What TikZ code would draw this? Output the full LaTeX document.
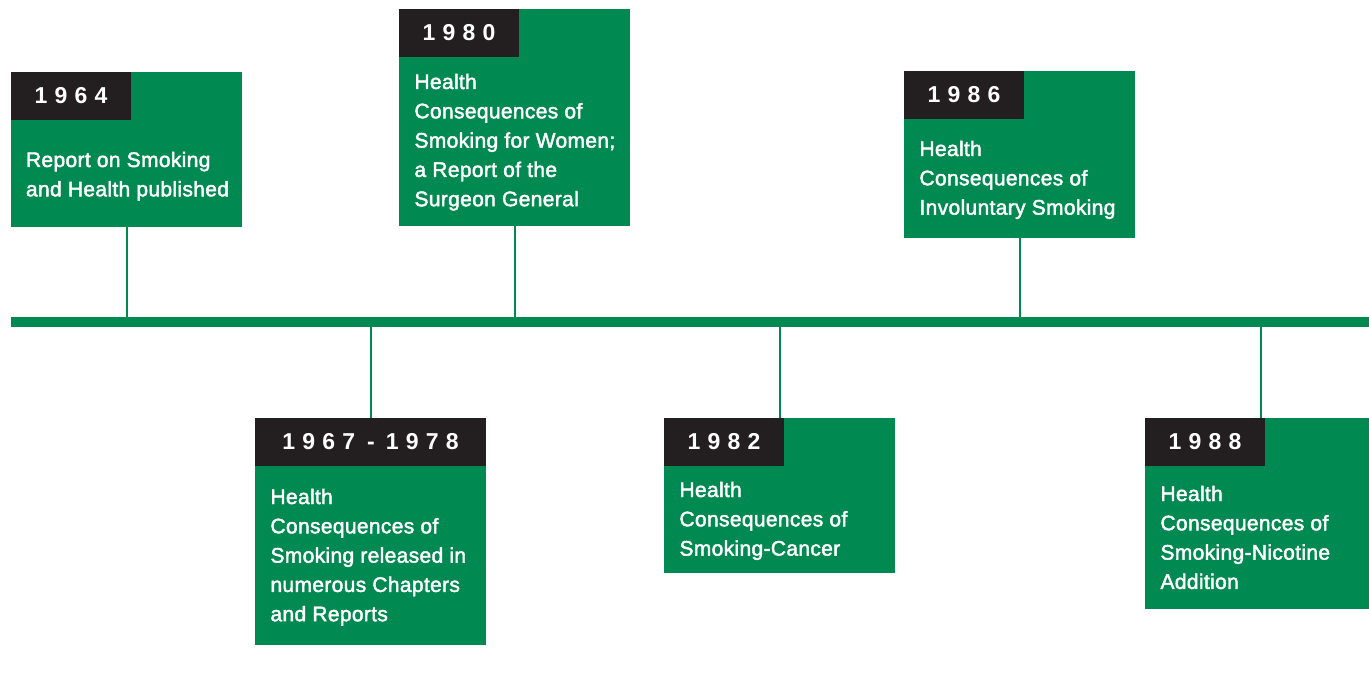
\documentclass[tikz,border=0pt]{standalone}
\usepackage{fontspec}
\setmainfont{Liberation Sans}
\newfontfamily\bodyfont{Liberation Sans}[LetterSpace=1.6,FakeBold=2]
\newfontfamily\yearfont{Liberation Sans Bold}
\definecolor{tlgreen}{RGB}{0,137,80}
\definecolor{tldark}{RGB}{35,31,32}
\tikzset{
  gbox/.style={fill=tlgreen, draw=none, anchor=north west, minimum width=231pt, inner sep=0pt, outer sep=0pt},
  ybox/.style={fill=tldark, draw=none, anchor=north west, minimum width=120pt, minimum height=48pt, inner sep=0pt, outer sep=0pt, text=white, font=\yearfont\fontsize{23}{27}\selectfont},
  btext/.style={anchor=base west, inner sep=0pt, outer sep=0pt, text=white, font=\bodyfont\fontsize{21}{29.3}\selectfont},
  conn/.style={draw=tlgreen, line width=2pt},
  tline/.style={fill=tlgreen, draw=none, anchor=north west, minimum width=1360pt, minimum height=10pt, inner sep=0pt, outer sep=0pt}
}
\newcommand{\btxt}[1]{\parbox[t]{300pt}{#1}}
\newcommand{\yk}{\kern7.2pt}
\begin{document}
\begin{tikzpicture}[x=1pt,y=-1pt]
\clip (0,0) rectangle (1369,695);
\fill[white] (0,0) rectangle (1369,695);
% timeline
\node[tline] (tl) at (11,317) {};
% boxes above
\node[gbox, minimum height=155pt] (b1964) at (11,72) {};
\node[ybox] (y1964) at (11,72) {1\yk 9\yk 6\yk 4};
\node[btext] (t1964) at (26,167) {\btxt{Report on Smoking\\and Health published}};

\node[gbox, minimum height=217pt] (b1980) at (399,9) {};
\node[ybox] (y1980) at (399,9) {1\yk 9\yk 8\yk 0};
\node[btext] (t1980) at (414.5,89) {\btxt{Health\\Consequences of\\Smoking for Women;\\a Report of the\\Surgeon General}};

\node[gbox, minimum height=167pt] (b1986) at (904,71) {};
\node[ybox] (y1986) at (904,71) {1\yk 9\yk 8\yk 6};
\node[btext] (t1986) at (919.5,156) {\btxt{Health\\Consequences of\\Involuntary Smoking}};

% boxes below
\node[gbox, minimum height=227pt] (b1967) at (255,418) {};
\node[ybox, minimum width=231pt] (y1967) at (255,418) {1\yk 9\yk 6\yk 7\kern12pt -\kern11pt 1\yk 9\yk 7\yk 8};
\node[btext] (t1967) at (270.5,504) {\btxt{Health\\Consequences of\\Smoking released in\\numerous Chapters\\and Reports}};

\node[gbox, minimum height=155pt] (b1982) at (664,418) {};
\node[ybox] (y1982) at (664,418) {1\yk 9\yk 8\yk 2};
\node[btext] (t1982) at (679.5,497) {\btxt{Health\\Consequences of\\Smoking-Cancer}};

\node[gbox, minimum height=191pt] (b1988) at (1145,418) {};
\node[ybox] (y1988) at (1145,418) {1\yk 9\yk 8\yk 8};
\node[btext] (t1988) at (1160.5,501) {\btxt{Health\\Consequences of\\Smoking-Nicotine\\Addition}};

% connectors
\draw[conn] (b1964.south) -- (b1964.south |- tl.north);
\draw[conn] (b1980.south) -- (b1980.south |- tl.north);
\draw[conn] (b1986.south) -- (b1986.south |- tl.north);
\draw[conn] (b1967.north) -- (b1967.north |- tl.south);
\draw[conn] (b1982.north) -- (b1982.north |- tl.south);
\draw[conn] (b1988.north) -- (b1988.north |- tl.south);
\end{tikzpicture}
\end{document}
